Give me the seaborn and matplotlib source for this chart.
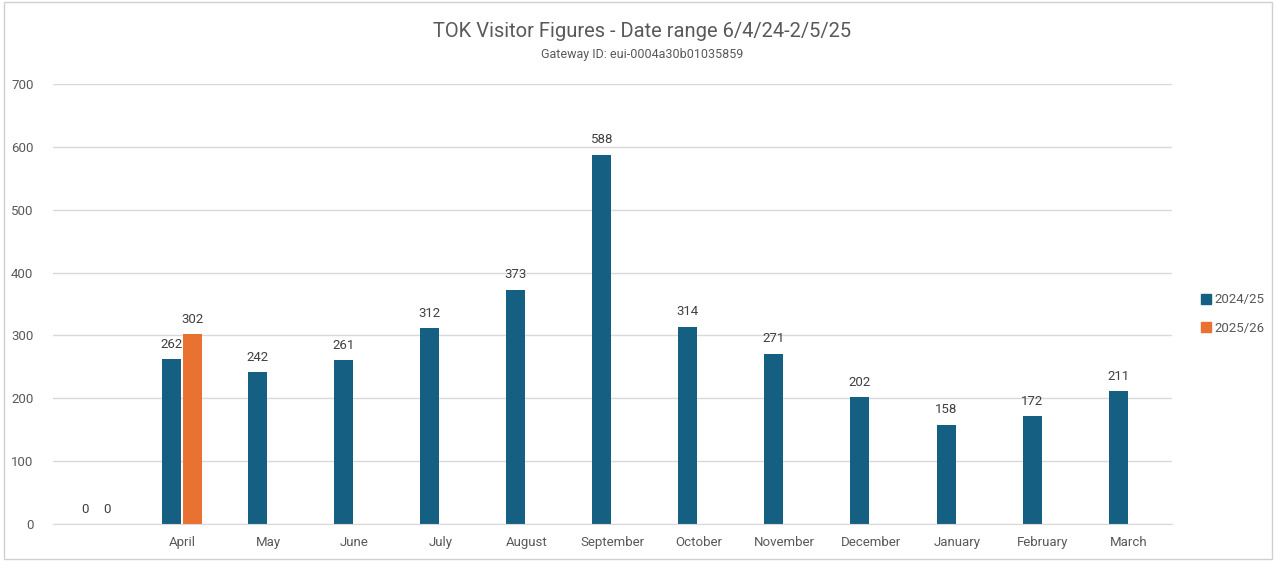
import pandas as pd
import matplotlib.pyplot as plt
from matplotlib.patches import Rectangle
import seaborn as sns

# Données
months = [' ', 'April', 'May', 'June', 'July', 'August', 'September',
          'October', 'November', 'December', 'January', 'February', 'March']
visitors_2425 = [0, 262, 242, 261, 312, 373, 588, 314, 271, 202, 158, 172, 211]
months_2526 = [' ', 'April']
visitors_2526 = [0, 302]
seasons = ['2024/25', '2025/26']

df = pd.concat([
    pd.DataFrame({'Month': months, 'Season': seasons[0], 'Visitors': visitors_2425}),
    pd.DataFrame({'Month': months_2526, 'Season': seasons[1], 'Visitors': visitors_2526}),
], ignore_index=True)

sns.set_style('white')
plt.rcParams['font.family'] = ['Roboto', 'DejaVu Sans']

grey = '#595959'
fig = plt.figure(figsize=(12.76, 5.61), dpi=100)
ax = fig.add_axes([0.0415, 0.066, 0.877, 0.784])

sns.barplot(data=df, x='Month', y='Visitors', hue='Season', order=months,
            hue_order=seasons, palette=['#156082', '#E97132'], saturation=1,
            width=0.5, gap=0.12, dodge=True, ax=ax, legend=False, errorbar=None,
            linewidth=0)

for cont in ax.containers:
    ax.bar_label(cont, fmt='%d', padding=6, fontsize=9.5, color='#404040')

ax.set_ylim(0, 700)
ax.set_yticks(range(0, 701, 100))
ax.grid(axis='y', color='#d9d9d9', linewidth=1)
ax.set_axisbelow(True)
for s in ['top', 'right', 'left']:
    ax.spines[s].set_visible(False)
ax.spines['bottom'].set_color('#d9d9d9')
ax.tick_params(axis='both', length=0, labelsize=9.5, colors=grey)
ax.tick_params(axis='x', pad=9)
ax.tick_params(axis='y', pad=14)
ax.set_xlabel('')
ax.set_ylabel('')

# Titre et sous-titre
fig.text(0.503, 0.944, 'TOK Visitor Figures - Date range 6/4/24-2/5/25',
         ha='center', va='center', fontsize=14.5, color=grey)
fig.text(0.503, 0.903, 'Gateway ID: eui-0004a30b01035859',
         ha='center', va='center', fontsize=9, color=grey)

# Légende
handles = [plt.Line2D([], [], marker='s', linestyle='', markersize=6.5, color=c)
           for c in ['#156082', '#E97132']]
fig.legend(handles, seasons, loc='center left', bbox_to_anchor=(0.932, 0.44),
           frameon=False, fontsize=9.5, labelcolor=grey, handlelength=0.7,
           handletextpad=0.3, labelspacing=1.2)

# Cadre du graphique
fig.patches.append(Rectangle((0.003, 0.003), 0.994, 0.994, transform=fig.transFigure,
                             fill=False, edgecolor='#d0d0d0', linewidth=1))

fig.savefig('out.png', dpi=100)
